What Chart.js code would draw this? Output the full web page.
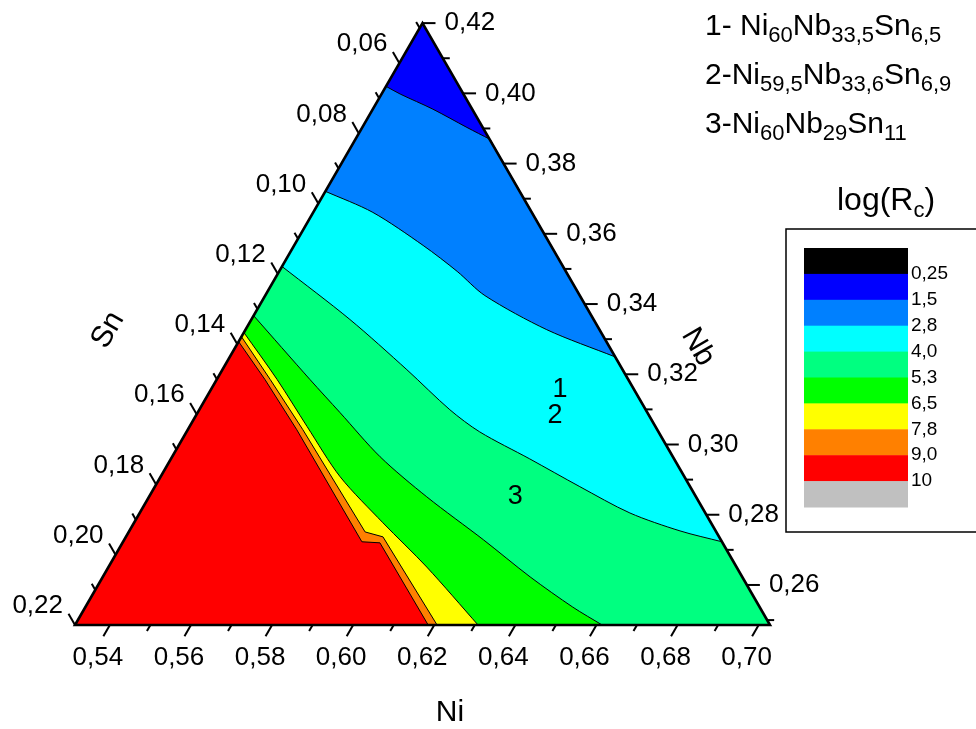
<!DOCTYPE html>
<html>
<head>
<meta charset="utf-8">
<script src="https://cdn.jsdelivr.net/npm/chart.js@4.4.0/dist/chart.umd.min.js"></script>
<style>
  html, body { margin: 0; padding: 0; background: #fff; }
  #wrap { width: 976px; height: 729px; }
</style>
</head>
<body>
<div id="wrap"><canvas id="ternary" width="976" height="729"></canvas></div>
<script>
// ternary window (mole fractions): Sn = 1 - Ni - Nb
const niMin = 0.5314, nbMin = 0.2486, span = 0.1714;
const snMax = 1 - niMin - nbMin, snMin = snMax - span;

// contour lines of log(Rc), points as [Ni, Nb]
const level15 = [[0.5314, 0.4020], [0.5360, 0.3998], [0.5462, 0.3955], [0.5572, 0.3903], [0.5646, 0.3869]];
const level28 = [[0.5314, 0.3721], [0.5461, 0.3661], [0.5632, 0.3567], [0.5753, 0.3493], [0.5856, 0.3424], [0.6057, 0.3327], [0.6263, 0.3250]];
const level40 = [[0.5314, 0.3507], [0.5557, 0.3356], [0.5769, 0.3213], [0.5932, 0.3099], [0.6037, 0.3036], [0.6199, 0.2959], [0.6362, 0.2880], [0.6523, 0.2805], [0.6672, 0.2754], [0.6791, 0.2723]];
const level53 = [[0.5314, 0.3367], [0.5544, 0.3185], [0.5665, 0.3091], [0.5827, 0.2965], [0.5999, 0.2851], [0.6201, 0.2728], [0.6368, 0.2623], [0.6516, 0.2537], [0.6614, 0.2486]];
const level65 = [[0.5314, 0.3319], [0.5463, 0.3185], [0.5604, 0.3051], [0.5757, 0.2908], [0.5928, 0.2777], [0.6099, 0.2651], [0.6308, 0.2486]];
const level78 = [[0.5314, 0.3307], [0.5446, 0.3185], [0.5598, 0.3042], [0.5897, 0.2751], [0.5948, 0.2737], [0.6207, 0.2486]];
const level90 = [[0.5314, 0.3293], [0.5433, 0.3185], [0.5583, 0.3042], [0.5903, 0.2723], [0.5949, 0.2720], [0.6185, 0.2486]];

// legend levels and colours (top to bottom)
const levelLabels = ['0,25', '1,5', '2,8', '4,0', '5,3', '6,5', '7,8', '9,0', '10'];
const levelColors = ['#000000', '#0000FF', '#0080FF', '#00FFFF', '#00FF80', '#00FF00', '#FFFF00', '#FF8000', '#FF0000', '#C0C0C0'];

// axis ticks
const niTicks = [0.54, 0.56, 0.58, 0.60, 0.62, 0.64, 0.66, 0.68, 0.70];
const niMinor = [0.55, 0.57, 0.59, 0.61, 0.63, 0.65, 0.67, 0.69];
const snTicks = [0.06, 0.08, 0.10, 0.12, 0.14, 0.16, 0.18, 0.20, 0.22];
const snMinor = [0.05, 0.07, 0.09, 0.11, 0.13, 0.15, 0.17, 0.19, 0.21];
const nbTicks = [0.26, 0.28, 0.30, 0.32, 0.34, 0.36, 0.38, 0.40, 0.42];
const nbMinor = [0.25, 0.27, 0.29, 0.31, 0.33, 0.35, 0.37, 0.39, 0.41];

// alloy markers: label, [Ni, Nb]
const alloyNames = ['1', '2', '3'];
const alloyPos = [[0.6175, 0.3156], [0.6200, 0.3082], [0.6217, 0.2851]];
const alloyFormulas = [
    ['1- Ni', '60', 'Nb', '33,5', 'Sn', '6,5'],
    ['2-Ni', '59,5', 'Nb', '33,6', 'Sn', '6,9'],
    ['3-Ni', '60', 'Nb', '29', 'Sn', '11']
];

const FONT = '"Liberation Sans", Arial, sans-serif';
const H = Math.sqrt(3) / 2;

// page layout of the triangle
const baseLeft = 75, baseRight = 770, baseY = 625;
const unit = baseRight - baseLeft;

function toXY(ni, nb) {
    const a = (ni - niMin) / span;
    const b = (nb - nbMin) / span;
    return { x: a + b / 2, y: b * H };
}

const BL = [niMin, nbMin];
const BR = [niMin + span, nbMin];
const TOP = [niMin, nbMin + span];

// area on the Ni/Sn-rich side of a contour line;
// corner points are doubled so the spline keeps the triangle edges straight
function regionBelow(line, endsOnRight) {
    const first = line[0], last = line[line.length - 1];
    const pts = line.concat([last]);
    if (endsOnRight) pts.push(BR, BR);
    pts.push(BL, BL, first, first);
    return pts.map(p => toXY(p[0], p[1]));
}

const regions = [
    { data: [TOP, BR, BL, TOP].map(p => toXY(p[0], p[1])), color: levelColors[1], line: false, tension: 0 },
    { data: regionBelow(level15, true), color: levelColors[2], line: true, tension: 0.3 },
    { data: regionBelow(level28, true), color: levelColors[3], line: true, tension: 0.3 },
    { data: regionBelow(level40, true), color: levelColors[4], line: true, tension: 0.3 },
    { data: regionBelow(level53, false), color: levelColors[5], line: true, tension: 0.3 },
    { data: regionBelow(level65, false), color: levelColors[6], line: true, tension: 0.3 },
    { data: regionBelow(level78, false), color: levelColors[7], line: true, tension: 0 },
    { data: regionBelow(level90, false), color: levelColors[8], line: true, tension: 0 }
];

const datasets = regions.map((r, i) => ({
    data: r.data,
    backgroundColor: r.color,
    borderColor: '#000',
    borderWidth: r.line ? 1 : 0,
    tension: r.tension,
    fill: 'shape',
    pointRadius: 0,
    order: 50 - i
}));

// triangle frame on top
datasets.push({
    data: [TOP, BR, BL, TOP, BR].map(p => toXY(p[0], p[1])),
    borderColor: '#000',
    borderWidth: 2.6,
    borderJoinStyle: 'miter',
    tension: 0,
    fill: false,
    pointRadius: 0,
    order: 0
});

function fmt(v) {
    return v.toFixed(2).replace('.', ',');
}

function drawParts(ctx, x, y, parts, big, small) {
    parts.forEach((t, i) => {
        const sub = i % 2 === 1;
        ctx.font = (sub ? small : big) + 'px ' + FONT;
        ctx.fillText(t, x, sub ? y + 7 : y);
        x += ctx.measureText(t).width;
    });
}

const ternaryDecor = {
    id: 'ternaryDecor',
    afterDatasetsDraw(chart) {
        const ctx = chart.ctx;
        const sx = chart.scales.x, sy = chart.scales.y;
        const pix = (ni, nb) => {
            const p = toXY(ni, nb);
            return { x: sx.getPixelForValue(p.x), y: sy.getPixelForValue(p.y) };
        };
        ctx.save();
        ctx.strokeStyle = '#000';
        ctx.fillStyle = '#000';
        ctx.lineWidth = 2;

        const tick = (p, dx, dy, len) => {
            ctx.beginPath();
            ctx.moveTo(p.x, p.y);
            ctx.lineTo(p.x + dx * len, p.y + dy * len);
            ctx.stroke();
        };

        ctx.font = '26px ' + FONT;
        ctx.textBaseline = 'middle';

        // Ni (bottom edge)
        ctx.textAlign = 'center';
        niMinor.forEach(v => tick(pix(v, nbMin), -0.5, H, 7));
        niTicks.forEach(v => {
            const p = pix(v, nbMin);
            tick(p, -0.5, H, 13);
            ctx.fillText(fmt(v), p.x - 12, p.y + 33);
        });

        // Sn (left edge)
        ctx.textAlign = 'right';
        snMinor.forEach(v => tick(pix(niMin, 1 - niMin - v), -0.5, -H, 7));
        snTicks.forEach(v => {
            const p = pix(niMin, 1 - niMin - v);
            tick(p, -0.5, -H, 13);
            ctx.fillText(fmt(v), p.x - 12, p.y - 19);
        });

        // Nb (right edge)
        ctx.textAlign = 'left';
        nbMinor.forEach(v => tick(pix(1 - v - snMin, v), 1, 0, 7));
        nbTicks.forEach(v => {
            const p = pix(1 - v - snMin, v);
            tick(p, 1, 0, 13);
            ctx.fillText(fmt(v), p.x + 22, p.y);
        });

        // axis titles
        ctx.font = '30px ' + FONT;
        ctx.textAlign = 'center';
        ctx.fillText('Ni', 450, 713);
        ctx.save();
        ctx.translate(108, 330);
        ctx.rotate(-Math.PI / 3);
        ctx.fillText('Sn', 0, 0);
        ctx.restore();
        ctx.save();
        ctx.translate(698, 347);
        ctx.rotate(Math.PI / 3);
        ctx.fillText('Nb', 0, 0);
        ctx.restore();

        // alloy numbers
        ctx.font = '27px ' + FONT;
        alloyNames.forEach((n, i) => {
            const p = pix(alloyPos[i][0], alloyPos[i][1]);
            ctx.fillText(n, p.x, p.y);
        });

        // formulas
        ctx.textAlign = 'left';
        ctx.textBaseline = 'alphabetic';
        [35, 84, 133].forEach((y, i) => drawParts(ctx, 705, y, alloyFormulas[i], 30, 22));

        // colour scale
        drawParts(ctx, 837, 210, ['log(R', 'c', ')'], 32, 22);
        ctx.lineWidth = 1.5;
        ctx.strokeRect(786, 229, 220, 303);
        const cellTop = 248, cellH = 25.9;
        levelColors.forEach((c, i) => {
            ctx.fillStyle = c;
            ctx.fillRect(804, cellTop + i * cellH, 104, cellH + 0.5);
        });
        ctx.fillStyle = '#000';
        ctx.font = '19px ' + FONT;
        ctx.textBaseline = 'middle';
        levelLabels.forEach((t, i) => ctx.fillText(t, 911, cellTop + (i + 1) * cellH));
        ctx.restore();
    }
};

new Chart(document.getElementById('ternary'), {
    type: 'line',
    data: { datasets },
    options: {
        responsive: false,
        animation: false,
        layout: { padding: 0 },
        scales: {
            x: { type: 'linear', display: false, min: -baseLeft / unit, max: (976 - baseLeft) / unit },
            y: { type: 'linear', display: false, min: -(729 - baseY) / unit, max: baseY / unit }
        },
        plugins: {
            legend: { display: false },
            tooltip: { enabled: false }
        }
    },
    plugins: [ternaryDecor]
});
</script>
</body>
</html>
